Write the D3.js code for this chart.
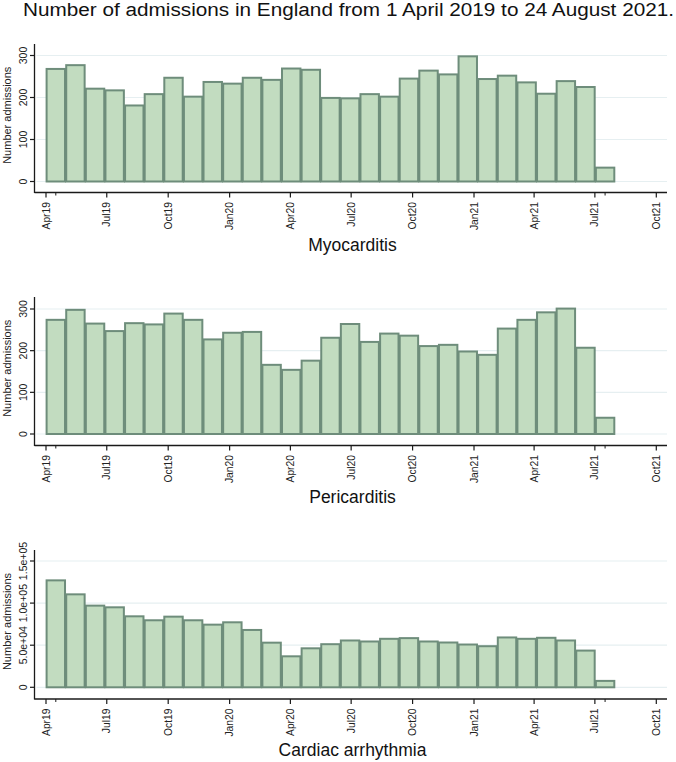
<!DOCTYPE html>
<html>
<head>
<meta charset="utf-8">
<script src="https://cdn.jsdelivr.net/npm/d3@7"></script>
<style>
  html, body { margin: 0; padding: 0; background: #ffffff; }
  svg { display: block; font-family: "Liberation Sans", Arial, Helvetica, sans-serif; }
</style>
</head>
<body>
<svg id="chart" width="676" height="762"></svg>
<script>
// ---------- DATA ----------
const chartTitle = "Number of admissions in England from 1 April 2019 to 24 August 2021.";
const panelTitles = ["Myocarditis", "Pericarditis", "Cardiac arrhythmia"];
const yAxisTitle = "Number admissions";

// 29 equal-width bins from 1 Apr 2019 to 31 Jul 2021
const binStart = "2019-04-01";
const binEnd = "2021-07-31";

const myocarditis = [268, 277, 221, 217, 181, 208, 247, 202, 237, 233, 247, 242, 269, 266, 199,
                     198, 208, 202, 245, 264, 255, 298, 244, 252, 236, 209, 239, 225, 33];
const pericarditis = [274, 298, 265, 247, 266, 263, 289, 274, 227, 243, 245, 166, 154, 176, 231,
                      264, 221, 241, 236, 211, 214, 198, 190, 253, 274, 292, 301, 207, 39];
const arrhythmia = [127000, 110400, 97000, 95000, 84300, 79600, 83900, 79600, 74400, 77200, 68100,
                    53000, 36800, 46300, 51200, 55600, 54400, 57600, 58400, 54400, 53200, 50800,
                    48800, 59200, 57600, 58800, 55600, 43600, 7600];

const xTickDates = ["2019-04-01", "2019-07-01", "2019-10-01", "2020-01-01", "2020-04-01", "2020-07-01",
                    "2020-10-01", "2021-01-01", "2021-04-01", "2021-07-01", "2021-10-01"];
const xTickLabels = ["Apr19", "Jul19", "Oct19", "Jan20", "Apr20", "Jul20", "Oct20", "Jan21", "Apr21", "Jul21", "Oct21"];

const yTicksCount = [0, 100, 200, 300];
const yTickLabelsCount = ["0", "100", "200", "300"];
const yTicksArr = [0, 50000, 100000, 150000];
const yTickLabelsArr = ["0", "5.0e+04", "1.0e+05", "1.5e+05"];

// ---------- STYLE / LAYOUT ----------
const fillColor = "#c2dcc0";
const strokeColor = "#6e8d7b";
const gridColor = "#e6eff1";
const axisColor = "#1a1a1a";

const panels = [
  { title: panelTitles[0], values: myocarditis, ticks: yTicksCount, labels: yTickLabelsCount,
    y0: 181.5, yTop: 55.5, axisTop: 44, axisBottom: 192.5, titleY: 250.5 },
  { title: panelTitles[1], values: pericarditis, ticks: yTicksCount, labels: yTickLabelsCount,
    y0: 434, yTop: 309, axisTop: 297, axisBottom: 445.5, titleY: 503 },
  { title: panelTitles[2], values: arrhythmia, ticks: yTicksArr, labels: yTickLabelsArr,
    y0: 687.3, yTop: 561, axisTop: 550, axisBottom: 699, titleY: 756 }
];

const axisX = 34.5;
const plotRight = 667;

const svg = d3.select("#chart");

svg.append("text")
  .attr("x", 23)
  .attr("y", 16)
  .attr("font-size", 18)
  .attr("textLength", 651)
  .attr("lengthAdjust", "spacingAndGlyphs")
  .attr("fill", "#111")
  .text(chartTitle);

const parse = d3.utcParse("%Y-%m-%d");
const x = d3.scaleUtc()
  .domain([parse("2019-04-01"), parse("2021-10-01")])
  .range([46, 656.3]);

const t0 = parse(binStart).getTime();
const t1 = parse(binEnd).getTime();
const nBins = myocarditis.length;
const binW = (t1 - t0) / nBins;
const binEdges = d3.range(nBins + 1).map(i => new Date(t0 + i * binW));
const minorTicks = [new Date(t0 + binW / 2), new Date(t0 + (nBins - 0.5) * binW)];

panels.forEach(p => {
  const g = svg.append("g");
  const y = d3.scaleLinear().domain([0, p.ticks[p.ticks.length - 1]]).range([p.y0, p.yTop]);

  // gridlines
  g.selectAll(".grid").data(p.ticks).join("line")
    .attr("x1", axisX + 2).attr("x2", plotRight)
    .attr("y1", d => y(d)).attr("y2", d => y(d))
    .attr("stroke", gridColor).attr("stroke-width", 1.2);

  // bars
  g.selectAll(".bar").data(p.values).join("rect")
    .attr("x", (d, i) => x(binEdges[i]) + 0.6)
    .attr("width", (d, i) => x(binEdges[i + 1]) - x(binEdges[i]) - 1.2)
    .attr("y", d => y(d))
    .attr("height", d => y(0) - y(d))
    .attr("fill", fillColor)
    .attr("stroke", strokeColor)
    .attr("stroke-width", 2);

  // y axis
  g.append("line")
    .attr("x1", axisX).attr("x2", axisX)
    .attr("y1", p.axisTop).attr("y2", p.axisBottom + 0.5)
    .attr("stroke", axisColor).attr("stroke-width", 1.3);
  g.selectAll(".ytick").data(p.ticks).join("line")
    .attr("x1", axisX - 4.5).attr("x2", axisX)
    .attr("y1", d => y(d)).attr("y2", d => y(d))
    .attr("stroke", axisColor).attr("stroke-width", 1.2);
  g.selectAll(".ylab").data(p.ticks).join("text")
    .attr("transform", d => `translate(27,${y(d)}) rotate(-90)`)
    .attr("text-anchor", "middle")
    .attr("font-size", 10.5)
    .attr("fill", "#222")
    .text((d, i) => p.labels[i]);
  g.append("text")
    .attr("transform", `translate(11,${(p.axisTop + p.axisBottom) / 2 - 3}) rotate(-90)`)
    .attr("text-anchor", "middle")
    .attr("font-size", 11)
    .attr("fill", "#222")
    .text(yAxisTitle);

  // x axis
  g.append("line")
    .attr("x1", axisX).attr("x2", plotRight)
    .attr("y1", p.axisBottom).attr("y2", p.axisBottom)
    .attr("stroke", axisColor).attr("stroke-width", 1.3);
  g.selectAll(".xtick").data(xTickDates).join("line")
    .attr("x1", d => x(parse(d))).attr("x2", d => x(parse(d)))
    .attr("y1", p.axisBottom).attr("y2", p.axisBottom + 5)
    .attr("stroke", axisColor).attr("stroke-width", 1.2);
  g.selectAll(".xminor").data(minorTicks).join("line")
    .attr("x1", d => x(d)).attr("x2", d => x(d))
    .attr("y1", p.axisBottom).attr("y2", p.axisBottom + 3)
    .attr("stroke", axisColor).attr("stroke-width", 1);
  g.selectAll(".xlab").data(xTickDates).join("text")
    .attr("transform", d => `translate(${x(parse(d)) + 3.6},${p.axisBottom + 9.5}) rotate(-90)`)
    .attr("text-anchor", "end")
    .attr("font-size", 10.3)
    .attr("fill", "#222")
    .text((d, i) => xTickLabels[i]);

  // panel title
  g.append("text")
    .attr("x", 352.5)
    .attr("y", p.titleY)
    .attr("text-anchor", "middle")
    .attr("font-size", 17.5)
    .attr("fill", "#111")
    .text(p.title);
});
</script>
</body>
</html>
